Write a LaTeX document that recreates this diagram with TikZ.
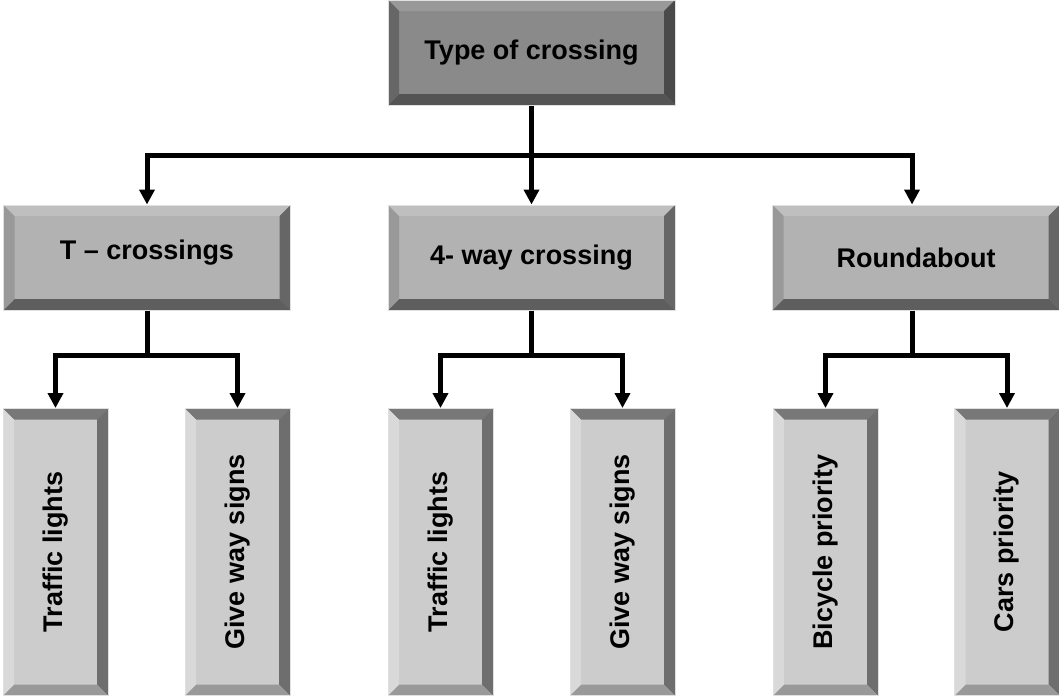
\documentclass[tikz,border=0pt]{standalone}
\usepackage{fontspec}
\setmainfont{Liberation Sans}
\usetikzlibrary{calc,arrows.meta}

\tikzset{
  bevel/.style n args={4}{path picture={
    \path (path picture bounding box.north west) coordinate (p1)
          (path picture bounding box.north east) coordinate (p2)
          (path picture bounding box.south east) coordinate (p3)
          (path picture bounding box.south west) coordinate (p4);
    \fill[#1] (p1) -- (p2) -- ($(p2)+(-11pt,-11pt)$) -- ($(p1)+(11pt,-11pt)$) -- cycle;
    \fill[#3] (p2) -- (p3) -- ($(p3)+(-11pt,11pt)$) -- ($(p2)+(-11pt,-11pt)$) -- cycle;
    \fill[#4] (p3) -- (p4) -- ($(p4)+(11pt,11pt)$) -- ($(p3)+(-11pt,11pt)$) -- cycle;
    \fill[#2] (p4) -- (p1) -- ($(p1)+(11pt,-11pt)$) -- ($(p4)+(11pt,11pt)$) -- cycle;
  }},
  box/.style={draw=black!12, line width=1pt, inner sep=0pt,
    font=\fontsize{27}{32}\selectfont\bfseries},
  rootbox/.style={box, fill=black!46, minimum width=287pt, minimum height=105pt,
    bevel={black!40}{black!60}{black!71}{black!67}},
  typebox/.style={box, fill=black!30, minimum width=287pt, minimum height=105pt,
    bevel={black!25}{black!40}{black!60}{black!63}},
  leafbox/.style={box, fill=black!20, minimum width=105pt, minimum height=287pt,
    bevel={black!53}{black!15}{black!57}{black!40}},
  link/.style={line width=5pt},
  arr/.style={link, -{Triangle[length=15pt,width=15pt]}}
}

\begin{document}
\begin{tikzpicture}[x=1pt,y=-1pt]
\useasboundingbox (0,0) rectangle (1059,697);

\node[rootbox] (root) at (531.5,52.5) {Type of crossing};

\node[typebox] (tcross) at (147,257.5) {\raisebox{15pt}{T -- crossings}};
\node[typebox] (four) at (531.5,257.5) {4- way crossing};
\node[typebox] (round) at (916,257.5) {Roundabout};

\node[leafbox] (tlightsA) at (55.5,552) {\rotatebox{90}{Traffic lights}};
\node[leafbox] (giveA) at (237.5,552) {\rotatebox{90}{Give way signs}};
\node[leafbox] (tlightsB) at (440.5,552) {\rotatebox{90}{Traffic lights}};
\node[leafbox] (giveB) at (622.5,552) {\rotatebox{90}{Give way signs}};
\node[leafbox] (bike) at (825.5,552) {\rotatebox{90}{Bicycle priority}};
\node[leafbox] (cars) at (1007,552) {\rotatebox{90}{Cars priority}};

\coordinate (J) at (531.5,155);
\coordinate (JA) at (147,355);
\coordinate (JB) at (531.5,355);
\coordinate (JC) at (912,355);

\draw[link] (root.south) -- (J);
\draw[arr] (J) -| (tcross.north);
\draw[arr] (J) -- (four.north);
\draw[arr] (J) -| ([xshift=-4pt]round.north);

\draw[link] (tcross.south) -- (JA);
\draw[arr] (JA) -| (tlightsA.north);
\draw[arr] (JA) -| (giveA.north);
\draw[link] (four.south) -- (JB);
\draw[arr] (JB) -| (tlightsB.north);
\draw[arr] (JB) -| (giveB.north);
\draw[link] ([xshift=-4pt]round.south) -- (JC);
\draw[arr] (JC) -| (bike.north);
\draw[arr] (JC) -| (cars.north);

\end{tikzpicture}
\end{document}
